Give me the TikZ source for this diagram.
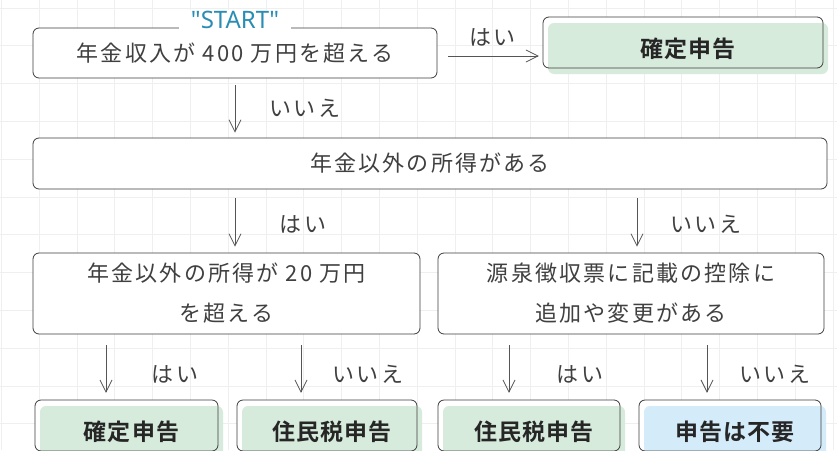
\documentclass[tikz,border=0pt]{standalone}
\usepackage{fontspec}
\setmainfont{Noto Sans CJK JP}[LetterSpace=10]
\newfontfamily\boldjp{Noto Sans CJK JP Bold}[LetterSpace=5]
\newfontfamily\startfont{Noto Sans}
\usetikzlibrary{arrows.meta,positioning}

\definecolor{linegray}{HTML}{3C3C3C}
\definecolor{arrowgray}{HTML}{555555}
\definecolor{textgray}{HTML}{404040}
\definecolor{gridgray}{HTML}{EFEFEF}
\definecolor{resgreen}{HTML}{D6EBDC}
\definecolor{resblue}{HTML}{D4EBF9}
\definecolor{startteal}{HTML}{2A8DB3}

\begin{document}
\begin{tikzpicture}
    [x=1pt,y=-1pt,
    every node/.style={font=\fontsize{22}{40}\selectfont,text=textgray},
    question/.style={draw=linegray,fill=white,line width=0.8pt,rounded corners=6pt,inner sep=0pt,align=center},
    result/.style={fill=#1,rounded corners=6pt,inner sep=0pt,minimum height=51pt,
        font=\boldjp\fontsize{23}{26}\selectfont,text=black!85,
        preaction={fill=white,transform canvas={xshift=-5pt,yshift=6pt}},
        postaction={draw=linegray,line width=0.8pt,transform canvas={xshift=-5pt,yshift=6pt}}},
    answer/.style={font=\fontsize{22}{25}\selectfont,inner sep=1pt},
    arr/.style={draw=arrowgray,line width=0.8pt,-{Straight Barb[length=12pt,width=12pt]}},
    gridline/.style={draw=gridgray,line width=0.6pt}]

    \useasboundingbox (0,0) rectangle (837,450);
    \clip (0,0) rectangle (837,450);

    % background grid
    \foreach \gx in {0,...,22}
        \draw[gridline] ({1.2+37.8*\gx},0) -- ({1.2+37.8*\gx},450);
    \foreach \gy in {0,...,11}
        \draw[gridline] (0,{7.9+37.8*\gy}) -- (837,{7.9+37.8*\gy});

    % questions
    \node[question,minimum width=404pt,minimum height=50pt] (start) at (235,53) {年金収入が 400 万円を超える};
    \node[fill=white,inner xsep=12pt,inner ysep=1pt,font=\startfont\fontsize{24}{26}\selectfont,text=startteal] (startlbl) at (235,20) {"START"};
    \node[question,minimum width=794pt,minimum height=51pt] (other) at (430,163.5) {年金以外の所得がある};
    \node[question,minimum width=387pt,minimum height=81pt] (over20) at (226.5,293.5) {年金以外の所得が 20 万円\\を超える};
    \node[question,minimum width=386pt,minimum height=81pt] (gensen) at (631,293.5) {源泉徴収票に記載の控除に\\追加や変更がある};

    % results
    \node[result=resgreen,minimum width=280pt] (kakutei1) at (688,48.5) {確定申告};
    \node[result=resgreen,minimum width=183pt] (kakutei2) at (131.5,431.5) {確定申告};
    \node[result=resgreen,minimum width=180pt] (jumin1) at (332,431.5) {住民税申告};
    \node[result=resgreen,minimum width=182pt] (jumin2) at (534,431.5) {住民税申告};
    \node[result=resblue,minimum width=182pt] (fuyou) at (735,431.5) {申告は不要};

    % arrows
    \draw[arr,shorten <=11pt,shorten >=9pt] ([yshift=-3pt]start.east) -- ([yshift=-3pt]start.east -| kakutei1.west)
        node[answer,midway,above=8pt] {はい};
    \draw[arr,shorten <=7pt,shorten >=5pt] (start.south) -- (start.south |- other.north)
        node[answer,midway,xshift=70pt] {いいえ};
    \draw[arr,shorten <=9pt,shorten >=6pt] ([xshift=8.5pt]over20.north |- other.south) -- ([xshift=8.5pt]over20.north)
        node[answer,midway,xshift=68pt,yshift=-3pt] {はい};
    \draw[arr,shorten <=9pt,shorten >=6pt] ([xshift=6pt]gensen.north |- other.south) -- ([xshift=6pt]gensen.north)
        node[answer,midway,xshift=69pt,yshift=-3pt] {いいえ};
    \draw[arr,shorten <=11pt,shorten >=13pt] ([xshift=-25.5pt]kakutei2.north |- over20.south) -- ([xshift=-25.5pt]kakutei2.north)
        node[answer,midway,xshift=69pt,yshift=-4pt] {はい};
    \draw[arr,shorten <=11pt,shorten >=13pt] ([xshift=-31pt]jumin1.north |- over20.south) -- ([xshift=-31pt]jumin1.north)
        node[answer,midway,xshift=67pt,yshift=-4pt] {いいえ};
    \draw[arr,shorten <=11pt,shorten >=13pt] ([xshift=-25pt]jumin2.north |- gensen.south) -- ([xshift=-25pt]jumin2.north)
        node[answer,midway,xshift=71pt,yshift=-4pt] {はい};
    \draw[arr,shorten <=11pt,shorten >=13pt] ([xshift=-28pt]fuyou.north |- gensen.south) -- ([xshift=-28pt]fuyou.north)
        node[answer,midway,xshift=68pt,yshift=-4pt] {いいえ};
\end{tikzpicture}
\end{document}
